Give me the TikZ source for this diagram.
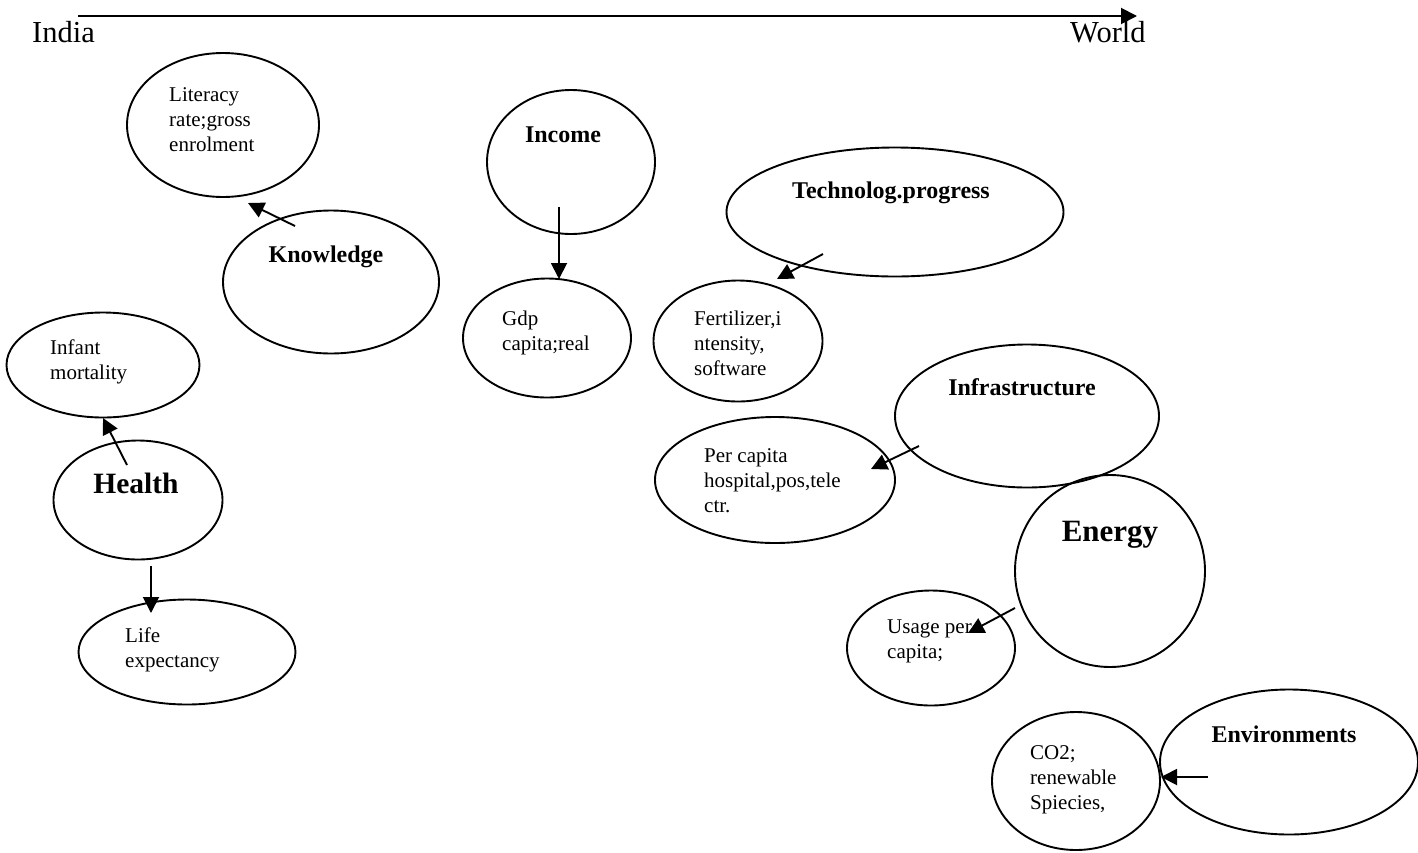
\documentclass[tikz,border=0pt]{standalone}
\usepackage{fontspec}
\setmainfont{Liberation Serif}
\usetikzlibrary{shapes.geometric,arrows.meta}
\begin{document}
\begin{tikzpicture}[x=1pt,y=-1pt,
  ell/.style={draw,ellipse,line width=1.9pt,inner sep=0pt},
  small/.style={anchor=base west,inner sep=0pt,font=\fontsize{21}{25}\selectfont},
  head/.style={anchor=base,inner sep=0pt,font=\fontsize{24}{28}\selectfont\bfseries},
  big/.style={anchor=base,inner sep=0pt,font=\fontsize{30}{34}\selectfont\bfseries},
  axislabel/.style={anchor=base west,inner sep=0pt,font=\fontsize{30.5}{34}\selectfont},
  conn/.style={line width=1.9pt,-{Triangle[length=16pt,width=16pt]}}]
\useasboundingbox (0,0) rectangle (1418,852);
\fill[white] (0,0) rectangle (1418,852);
% axis
\coordinate (a1) at (78,16);
\coordinate (a2) at (1137,16);
\draw[conn] (a1) -- (a2);
\node[axislabel] (india) at (32,42) {India};
\node[axislabel] (world) at (1070,42) {World};
% ellipses
\node[ell,minimum width=192pt,minimum height=144pt] (lit) at (223,125) {};
\node[ell,minimum width=216pt,minimum height=143pt] (know) at (331,282) {};
\node[ell,minimum width=168pt,minimum height=144pt] (inc) at (571,162) {};
\node[ell,minimum width=168pt,minimum height=119pt] (gdp) at (547,338) {};
\node[ell,minimum width=337pt,minimum height=129pt] (tech) at (895,212) {};
\node[ell,minimum width=169pt,minimum height=121pt] (fert) at (738,341) {};
\node[ell,minimum width=264pt,minimum height=143pt] (infra) at (1027,416) {};
\node[ell,minimum width=240pt,minimum height=126pt] (percap) at (775,480) {};
\node[ell,minimum width=190pt,minimum height=192pt] (energy) at (1110,571) {};
\node[ell,minimum width=168pt,minimum height=115pt] (usage) at (931,648) {};
\node[ell,minimum width=258pt,minimum height=145pt] (env) at (1289,762) {};
\node[ell,minimum width=168pt,minimum height=138pt] (co2) at (1076,781) {};
\node[ell,minimum width=193pt,minimum height=105pt] (infant) at (103,365) {};
\node[ell,minimum width=169pt,minimum height=119pt] (health) at (138,500) {};
\node[ell,minimum width=217pt,minimum height=105pt] (life) at (187,652) {};
% labels
\node[small] (litT) at (169,101) {\begin{tabular}[t]{@{}l@{}}Literacy\\rate;gross\\enrolment\end{tabular}};
\node[head] (knowT) at (326,262) {Knowledge};
\node[head] (incT) at (563,142) {Income};
\node[small] (gdpT) at (502,325.5) {\begin{tabular}[t]{@{}l@{}}Gdp\\capita;real\end{tabular}};
\node[head] (techT) at (891,198) {Technolog.progress};
\node[small] (fertT) at (694,325.5) {\begin{tabular}[t]{@{}l@{}}Fertilizer,i\\ntensity,\\software\end{tabular}};
\node[head] (infraT) at (1022,395) {Infrastructure};
\node[small] (percapT) at (704,462) {\begin{tabular}[t]{@{}l@{}}Per capita\\hospital,pos,tele\\ctr.\end{tabular}};
\node[big,font=\fontsize{31}{35}\selectfont\bfseries] (energyT) at (1110,541) {Energy};
\node[small] (usageT) at (887,633) {\begin{tabular}[t]{@{}l@{}}Usage per\\capita;\end{tabular}};
\node[head] (envT) at (1284,742) {Environments};
\node[small] (co2T) at (1030,759) {\begin{tabular}[t]{@{}l@{}}CO2;\\renewable\\Spiecies,\end{tabular}};
\node[small] (infantT) at (50,354) {\begin{tabular}[t]{@{}l@{}}Infant\\mortality\end{tabular}};
\node[big,font=\fontsize{29.5}{34}\selectfont\bfseries] (healthT) at (136,493) {Health};
\node[small] (lifeT) at (125,642) {\begin{tabular}[t]{@{}l@{}}Life\\expectancy\end{tabular}};
% connectors
\coordinate (k1) at (295,226); \coordinate (k2) at (248,203);
\coordinate (i1) at (559,207); \coordinate (i2) at (559,279);
\coordinate (t1) at (823,254); \coordinate (t2) at (777,279);
\coordinate (f1) at (919,446); \coordinate (f2) at (871,469);
\coordinate (e1) at (1015,608); \coordinate (e2) at (968,633);
\coordinate (v1) at (1208,777); \coordinate (v2) at (1161,777);
\coordinate (h1) at (127,465); \coordinate (h2) at (103,418);
\coordinate (h3) at (151,566); \coordinate (h4) at (151,613);
\draw[conn] (k1) -- (k2);
\draw[conn] (i1) -- (i2);
\draw[conn] (t1) -- (t2);
\draw[conn] (f1) -- (f2);
\draw[conn] (e1) -- (e2);
\draw[conn] (v1) -- (v2);
\draw[conn] (h1) -- (h2);
\draw[conn] (h3) -- (h4);
\end{tikzpicture}
\end{document}
